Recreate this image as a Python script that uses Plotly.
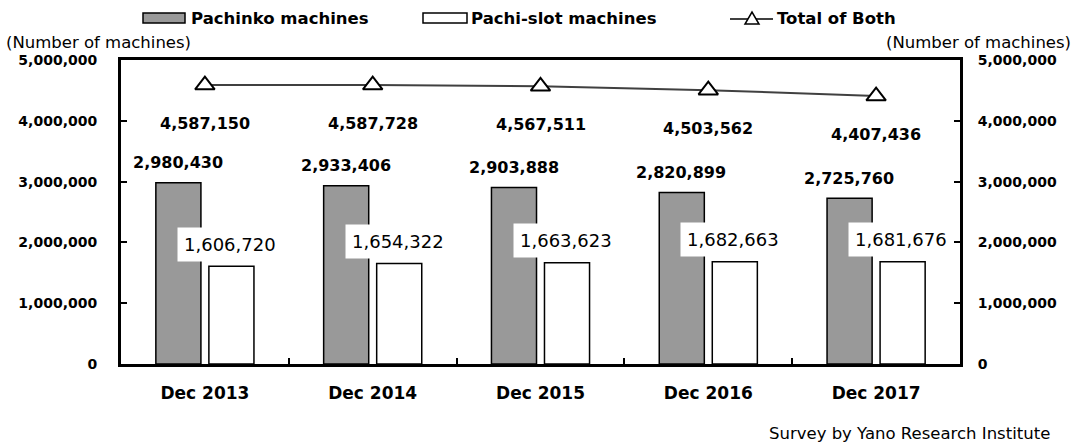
import plotly.graph_objects as go

categories = ["Dec 2013", "Dec 2014", "Dec 2015", "Dec 2016", "Dec 2017"]
pachinko = [2980430, 2933406, 2903888, 2820899, 2725760]
pachislot = [1606720, 1654322, 1663623, 1682663, 1681676]
total = [4587150, 4587728, 4567511, 4503562, 4407436]
tick_vals = [0, 1000000, 2000000, 3000000, 4000000, 5000000]
tick_text = ["0", "1,000,000", "2,000,000", "3,000,000", "4,000,000", "5,000,000"]

W, H = 1072, 446
ML, MR, MT, MB = 121, 112, 60, 82
PW, PH = W - ML - MR, H - MT - MB
FONT = "DejaVu Sans"

def px(x):
    return (x - ML) / PW

def py(y):
    return (H - MB - y) / PH

fig = go.Figure()
fig.add_trace(go.Bar(x=categories, y=pachinko, name="Pachinko machines",
                     marker=dict(color="#999999", line=dict(color="black", width=1.5)),
                     showlegend=False))
fig.add_trace(go.Bar(x=categories, y=pachislot, name="Pachi-slot machines",
                     marker=dict(color="white", line=dict(color="black", width=1.5)),
                     showlegend=False))
fig.add_trace(go.Scatter(x=categories, y=total, name="Total of Both", yaxis="y2",
                         mode="lines+markers",
                         line=dict(color="#404040", width=2),
                         marker=dict(symbol="triangle-up", size=17, color="white",
                                     line=dict(color="black", width=2)),
                         showlegend=False))

ann = []
for c, v in zip(categories, pachinko):
    ann.append(dict(x=c, y=v, text=f"{v:,}", showarrow=False, xshift=-27, yshift=20,
                    font=dict(family=FONT, size=16, color="black", weight="bold")))
for c, v in zip(categories, pachislot):
    ann.append(dict(x=c, y=v, text=f"{v:,}", showarrow=False, xshift=25, yshift=22,
                    bgcolor="white", borderpad=6,
                    font=dict(family=FONT, size=18, color="black")))
for c, v in zip(categories, total):
    ann.append(dict(x=c, y=v, yref="y2", text=f"{v:,}", showarrow=False, yshift=-38,
                    font=dict(family=FONT, size=16, color="black", weight="bold")))

# axis unit titles and source
ann.append(dict(xref="paper", yref="paper", x=px(4), y=py(42), xanchor="left", yanchor="middle",
                text="(Number of machines)", showarrow=False,
                font=dict(family=FONT, size=16.5, color="black")))
ann.append(dict(xref="paper", yref="paper", x=px(1073), y=py(42), xanchor="right", yanchor="middle",
                text="(Number of machines)", showarrow=False,
                font=dict(family=FONT, size=16.5, color="black")))
ann.append(dict(xref="paper", yref="paper", x=px(1052), y=py(433), xanchor="right", yanchor="middle",
                text="Survey by Yano Research Institute", showarrow=False,
                font=dict(family=FONT, size=16.5, color="black")))

# manual legend
legend_items = [("Pachinko machines", 189), ("Pachi-slot machines", 469), ("Total of Both", 775)]
for name, x0 in legend_items:
    ann.append(dict(xref="paper", yref="paper", x=px(x0), y=py(18), xanchor="left", yanchor="middle",
                    text=name, showarrow=False,
                    font=dict(family=FONT, size=16.5, color="black", weight="bold")))

shapes = [
    dict(type="rect", xref="paper", yref="paper", x0=px(143), x1=px(185), y0=py(23), y1=py(13),
         fillcolor="#999999", line=dict(color="black", width=1.5)),
    dict(type="rect", xref="paper", yref="paper", x0=px(423), x1=px(467), y0=py(23), y1=py(13),
         fillcolor="white", line=dict(color="black", width=1.5)),
    dict(type="line", xref="paper", yref="paper", x0=px(730), x1=px(773), y0=py(19), y1=py(19),
         line=dict(color="#404040", width=2)),
    dict(type="path", xref="paper", yref="paper",
         path=f"M{px(745)},{py(24)} L{px(759)},{py(24)} L{px(752)},{py(12)} Z",
         fillcolor="white", line=dict(color="black", width=1.5)),
]

axis_font = dict(family=FONT, size=14, color="black", weight="bold")
fig.update_layout(
    width=W, height=H,
    margin=dict(l=ML, r=MR, t=MT, b=MB),
    paper_bgcolor="white", plot_bgcolor="white",
    barmode="group", bargap=0.368, bargroupgap=0.15,
    annotations=ann, shapes=shapes,
    xaxis=dict(type="category", showline=True, linecolor="black", linewidth=3, mirror=True,
               ticks="inside", ticklen=6, tickwidth=1.5, tickcolor="black", tickson="boundaries",
               tickfont=dict(family=FONT, size=17, color="black", weight="bold"),
               showgrid=False, ticklabelstandoff=12),
    yaxis=dict(range=[0, 5000000], tickvals=tick_vals, ticktext=tick_text,
               showline=True, linecolor="black", linewidth=3,
               ticks="inside", ticklen=6, tickwidth=1.5, tickcolor="black",
               tickfont=axis_font, showgrid=False, zeroline=False, ticklabelstandoff=18),
    yaxis2=dict(range=[0, 5000000], tickvals=tick_vals, ticktext=tick_text, overlaying="y",
                side="right", showline=True, linecolor="black", linewidth=3,
                ticks="inside", ticklen=6, tickwidth=1.5, tickcolor="black",
                tickfont=axis_font, showgrid=False, zeroline=False, ticklabelstandoff=12),
)

fig.write_html("out.html", config={"displayModeBar": False},
               post_script="document.body.style.margin='0';document.body.style.overflow='hidden';")
